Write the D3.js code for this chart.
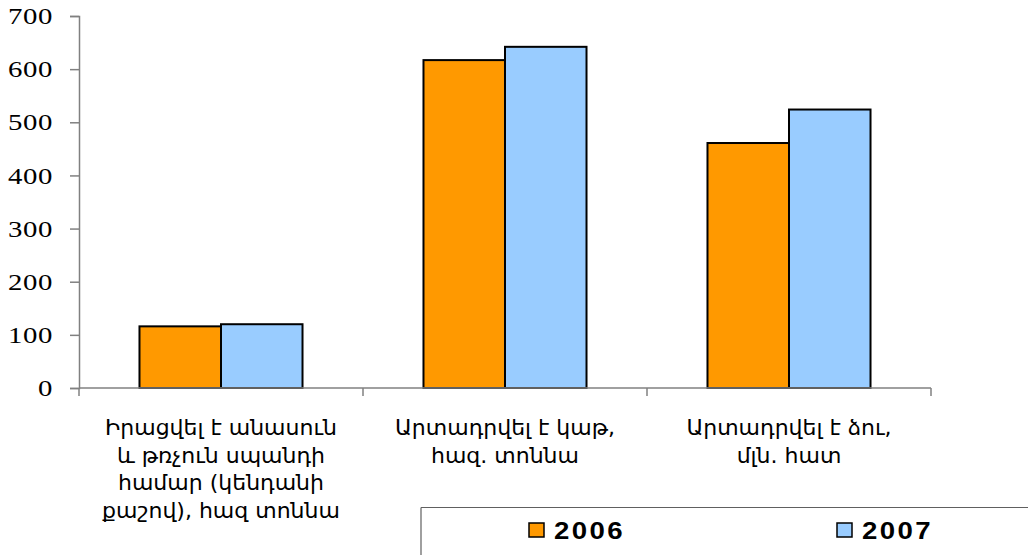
<!DOCTYPE html>
<html><head><meta charset="utf-8">
<script src="https://cdn.jsdelivr.net/npm/d3@7"></script>
<style>body{margin:0;background:#fff}svg{display:block}</style>
</head><body>
<script>
const categories = [
  ["Իրացվել է անասուն", "և թռչուն սպանդի", "համար (կենդանի", "քաշով), հազ տոննա"],
  ["Արտադրվել է կաթ,", "հազ. տոննա"],
  ["Արտադրվել է ձու,", "մլն. հատ"]
];
const seriesNames = ["2006", "2007"];
const values2006 = [116, 617, 461];
const values2007 = [120, 642, 524];
const yTicks = [0, 100, 200, 300, 400, 500, 600, 700];
const colors = ["#FF9900", "#99CCFF"];

(function () {
const W = 1028, H = 555;
const svg = d3.select("body").append("svg").attr("width", W).attr("height", H);
const mLeft = 79, mRight = 931, mTop = 16, mBottom = 388;

const catIdx = categories.map((d, i) => i);
const x0 = d3.scaleBand().domain(catIdx).range([mLeft, mRight]).padding(0);
const x1 = d3.scaleBand().domain(seriesNames).range([0, x0.bandwidth()]).paddingInner(0).paddingOuter(0.742);
const y = d3.scaleLinear().domain([0, 700]).range([mBottom, mTop]);

const data = catIdx.map(i => ({i, vals: [values2006[i], values2007[i]]}));

// bars
const g = svg.append("g");
data.forEach(d => {
  d.vals.forEach((v, s) => {
    g.append("rect")
      .attr("x", x0(d.i) + x1(seriesNames[s]))
      .attr("y", y(v))
      .attr("width", x1.bandwidth())
      .attr("height", y(0) - y(v))
      .attr("fill", colors[s])
      .attr("stroke", "#000").attr("stroke-width", 2);
  });
});

// y axis
const sx = 1.2;
const yAxis = svg.append("g").attr("transform", `translate(${mLeft},0)`)
  .call(d3.axisLeft(y).tickValues(yTicks).tickSize(9).tickPadding(0).tickFormat(d3.format("d")));
yAxis.select(".domain").attr("stroke", "#808080").attr("stroke-width", 1.5);
yAxis.selectAll(".tick line").attr("stroke", "#808080").attr("stroke-width", 1.5);
yAxis.selectAll(".tick text")
  .attr("x", -26 / sx)
  .attr("transform", `scale(${sx},1)`)
  .attr("font-family", "Liberation Serif, Times New Roman, serif")
  .attr("font-size", 24).attr("letter-spacing", 0.5).attr("fill", "#000");

// x axis
const xAxis = svg.append("g").attr("transform", `translate(0,${mBottom})`);
xAxis.append("line").attr("x1", mLeft).attr("x2", mRight).attr("y1", 0).attr("y2", 0)
  .attr("stroke", "#808080").attr("stroke-width", 1.5);
const bounds = catIdx.map(i => x0(i)).concat([x0(catIdx[catIdx.length - 1]) + x0.bandwidth()]);
xAxis.selectAll(".bt").data(bounds).enter().append("line")
  .attr("x1", d => d).attr("x2", d => d).attr("y1", 0).attr("y2", 8)
  .attr("stroke", "#808080").attr("stroke-width", 1.5);

// category labels
categories.forEach((lines, i) => {
  const cx = x0(i) + x0.bandwidth() / 2;
  const t = svg.append("text")
    .attr("font-family", "DejaVu Sans, sans-serif").attr("font-size", 22)
    .attr("text-anchor", "middle").attr("fill", "#000");
  lines.forEach((l, k) => {
    t.append("tspan").attr("x", cx).attr("y", 435 + k * 27.5).text(l);
  });
});

// legend
const lg = svg.append("g");
lg.append("line").attr("x1", 421).attr("x2", W).attr("y1", 507.5).attr("y2", 507.5).attr("stroke", "#606060").attr("stroke-width", 1.2);
lg.append("line").attr("x1", 421).attr("x2", 421).attr("y1", 507.5).attr("y2", H).attr("stroke", "#606060").attr("stroke-width", 1.2);
const legX = [529, 837];
seriesNames.forEach((s, i) => {
  lg.append("rect").attr("x", legX[i]).attr("y", 523).attr("width", 15).attr("height", 14)
    .attr("fill", colors[i]).attr("stroke", "#000").attr("stroke-width", 1.5);
  lg.append("text").attr("transform", `translate(${legX[i] + 25},539) scale(1.2,1)`)
    .attr("font-family", "Liberation Sans, Arial, sans-serif").attr("font-weight", "bold")
    .attr("font-size", 23).attr("letter-spacing", 2).attr("fill", "#000").text(s);
});
})();
</script>
</body></html>
